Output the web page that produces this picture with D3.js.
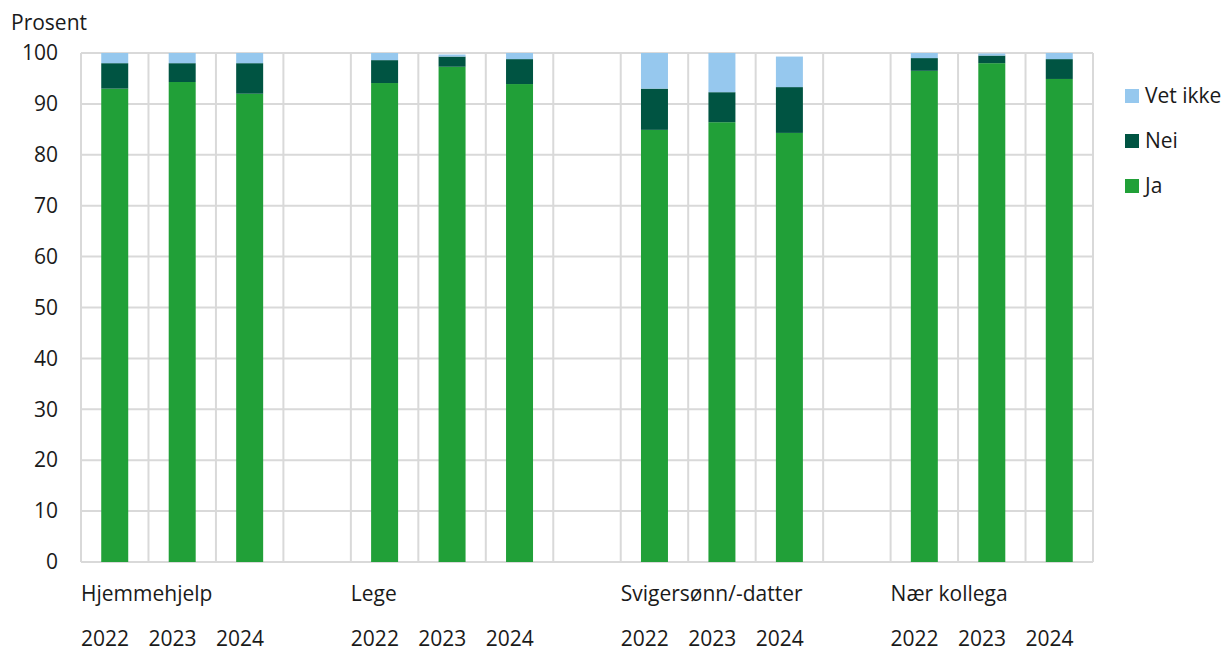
<!DOCTYPE html>
<html>
<head>
<meta charset="utf-8">
<script src="https://cdn.jsdelivr.net/npm/d3@7"></script>
<style>
  html, body { margin: 0; padding: 0; background: #fff; }
  svg { display: block; }
  text { font-family: "Open Sans", "Noto Sans", sans-serif; fill: #1a1a1a; }
</style>
</head>
<body>
<svg id="chart" width="1224" height="651"></svg>
<script>
const categories = ["Hjemmehjelp", "Lege", "Svigersønn/-datter", "Nær kollega"];
const years = ["2022", "2023", "2024"];
const ja  = [93.0, 94.3, 92.0, 94.1, 97.3, 93.9, 84.9, 86.4, 84.3, 96.5, 98.0, 94.9];
const nei = [5.0, 3.7, 6.0, 4.5, 2.0, 4.9, 8.1, 5.9, 9.0, 2.5, 1.5, 3.9];
const vet = [2.0, 2.0, 2.0, 1.4, 0.4, 1.2, 7.0, 7.7, 6.0, 1.0, 0.4, 1.2];
const seriesNames = ["Ja", "Nei", "Vet ikke"];
const colors = ["#21a038", "#005442", "#96c8ee"];
const yTicks = [0, 10, 20, 30, 40, 50, 60, 70, 80, 90, 100];

(function () {
const svg = d3.select("#chart");
const mLeft = 81, mRight = 1093, mTop = 53, mBottom = 562;
const fs = 21;

const slots = [];
categories.forEach((c, ci) => {
  years.forEach(y => slots.push(c + "|" + y));
  if (ci < categories.length - 1) slots.push("gap" + ci);
});

const x = d3.scaleBand().domain(slots).range([mLeft, mRight]).paddingInner(0.6).paddingOuter(0.3);
const step = x.step();
const y = d3.scaleLinear().domain([0, 100]).range([mBottom, mTop]);

const grid = svg.append("g").attr("stroke", "#d9d9d9").attr("stroke-width", 2);
yTicks.forEach(t => {
  grid.append("line").attr("x1", mLeft).attr("x2", mRight).attr("y1", y(t)).attr("y2", y(t));
});
const bounds = slots.map(s => x(s) - step * 0.3).concat([mRight]);
bounds.forEach(b => {
  grid.append("line").attr("x1", b).attr("x2", b).attr("y1", mTop).attr("y2", mBottom);
});

const rows = [];
categories.forEach((c, ci) => years.forEach((yr, yi) => {
  const i = ci * 3 + yi;
  rows.push({ key: c + "|" + yr, Ja: ja[i], Nei: nei[i], "Vet ikke": vet[i] });
}));
const stack = d3.stack().keys(seriesNames)(rows);

svg.append("g").selectAll("g").data(stack).join("g")
  .attr("fill", (d, i) => colors[i])
  .selectAll("rect").data(d => d).join("rect")
  .attr("x", d => x(d.data.key))
  .attr("width", x.bandwidth())
  .attr("y", d => y(d[1]))
  .attr("height", d => y(d[0]) - y(d[1]));

const yAxis = d3.axisLeft(y).tickValues(yTicks).tickSize(0).tickPadding(0);
const yg = svg.append("g").attr("transform", "translate(58,0)").call(yAxis);
yg.select(".domain").remove();
yg.selectAll("text").attr("font-size", fs).attr("fill", "#1a1a1a")
  .style("font-family", '"Open Sans", "Noto Sans", sans-serif');

svg.append("text").attr("x", 11).attr("y", 30).attr("font-size", fs).text("Prosent");

categories.forEach(c => {
  svg.append("text").attr("x", x(c + "|2022") - step * 0.3).attr("y", 601)
    .attr("font-size", fs).text(c);
  years.forEach(yr => {
    svg.append("text").attr("x", x(c + "|" + yr) - step * 0.3).attr("y", 646)
      .attr("font-size", fs).text(yr);
  });
});

const legendOrder = [2, 1, 0];
legendOrder.forEach((si, k) => {
  const ly = 89 + k * 45;
  svg.append("rect").attr("x", 1125).attr("y", ly).attr("width", 14).attr("height", 14).attr("fill", colors[si]);
  svg.append("text").attr("x", 1145).attr("y", ly + 7).attr("dy", "0.35em")
    .attr("font-size", fs).text(seriesNames[si]);
});
})();
</script>
</body>
</html>
